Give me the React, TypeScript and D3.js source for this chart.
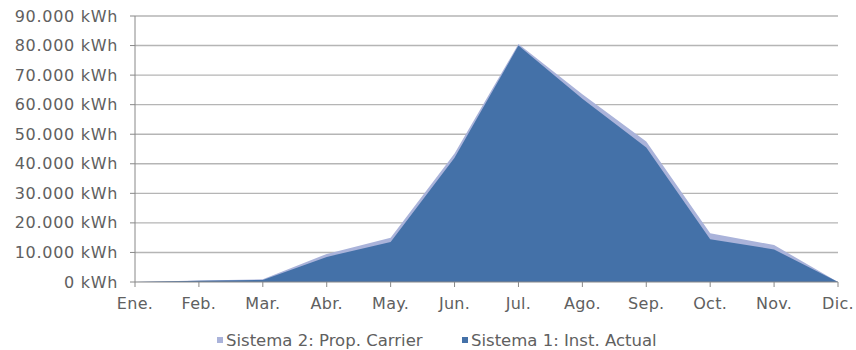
import React from "react";
import * as d3 from "d3";

const months = ["Ene.", "Feb.", "Mar.", "Abr.", "May.", "Jun.", "Jul.", "Ago.", "Sep.", "Oct.", "Nov.", "Dic."];
const sistema2 = [0, 500, 900, 9500, 15000, 43500, 80500, 63500, 47500, 16500, 12500, 0];
const sistema1 = [0, 400, 700, 8500, 13500, 42000, 80000, 62000, 45500, 14500, 11000, 0];
const yTicks = [0, 10000, 20000, 30000, 40000, 50000, 60000, 70000, 80000, 90000];
const seriesNames = ["Sistema 2: Prop. Carrier", "Sistema 1: Inst. Actual"];

const W = 856;
const H = 350;
const left = 135;
const right = 838;
const top = 16;
const bottom = 282;

const FONT = "'DejaVu Sans', Verdana, sans-serif";
const TEXT = "#606060";
const BLUE = "#4471a8";
const LAV = "#aab3da";

const fmt = (v: number) => d3.format(",")(v).replace(/,/g, ".") + " kWh";

export default function App() {
  const x = d3.scalePoint<string>().domain(months).range([left, right]);
  const y = d3.scaleLinear().domain([0, 90000]).range([bottom, top]);

  const area = d3
    .area<number>()
    .x((_, i) => x(months[i]) as number)
    .y0(y(0))
    .y1((d) => y(d));

  return (
    <svg
      width={W}
      height={H}
      style={{ position: "absolute", left: 0, top: 0, background: "#fff" }}
      fontFamily={FONT}
    >
      {/* horizontal gridlines and y labels */}
      {yTicks.map((t) => (
        <g key={t}>
          {t > 0 && (
            <line x1={left} x2={right} y1={y(t)} y2={y(t)} stroke="#b5b5b5" strokeWidth={1.4} />
          )}
          <line x1={left - 5} x2={left} y1={y(t)} y2={y(t)} stroke="#888" strokeWidth={1} />
          <text
            x={118}
            y={y(t)}
            dy="0.35em"
            textAnchor="end"
            fontSize={16}
            letterSpacing={0.7}
            fill={TEXT}
          >
            {fmt(t)}
          </text>
        </g>
      ))}

      {/* areas: Sistema 2 behind, Sistema 1 in front */}
      <path d={area(sistema2) || ""} fill={LAV} />
      <path d={area(sistema1) || ""} fill={BLUE} />

      {/* axes */}
      <line x1={left} x2={left} y1={top} y2={bottom} stroke="#888" strokeWidth={1} />
      <line x1={left} x2={right} y1={bottom} y2={bottom} stroke="#888" strokeWidth={1.2} />
      {months.map((m) => (
        <g key={m}>
          <line
            x1={x(m)}
            x2={x(m)}
            y1={bottom}
            y2={bottom + 5}
            stroke="#888"
            strokeWidth={1}
          />
          <text
            x={x(m)}
            y={303}
            dy="0.35em"
            textAnchor="middle"
            fontSize={16}
            letterSpacing={0.3}
            fill={TEXT}
          >
            {m}
          </text>
        </g>
      ))}

      {/* legend */}
      <g>
        <rect x={217} y={337} width={6} height={6} fill={LAV} />
        <text x={226} y={340} dy="0.35em" fontSize={16.5} fill={TEXT}>
          {seriesNames[0]}
        </text>
        <rect x={462} y={337} width={6} height={6} fill={BLUE} />
        <text x={471} y={340} dy="0.35em" fontSize={16.5} fill={TEXT}>
          {seriesNames[1]}
        </text>
      </g>
    </svg>
  );
}
